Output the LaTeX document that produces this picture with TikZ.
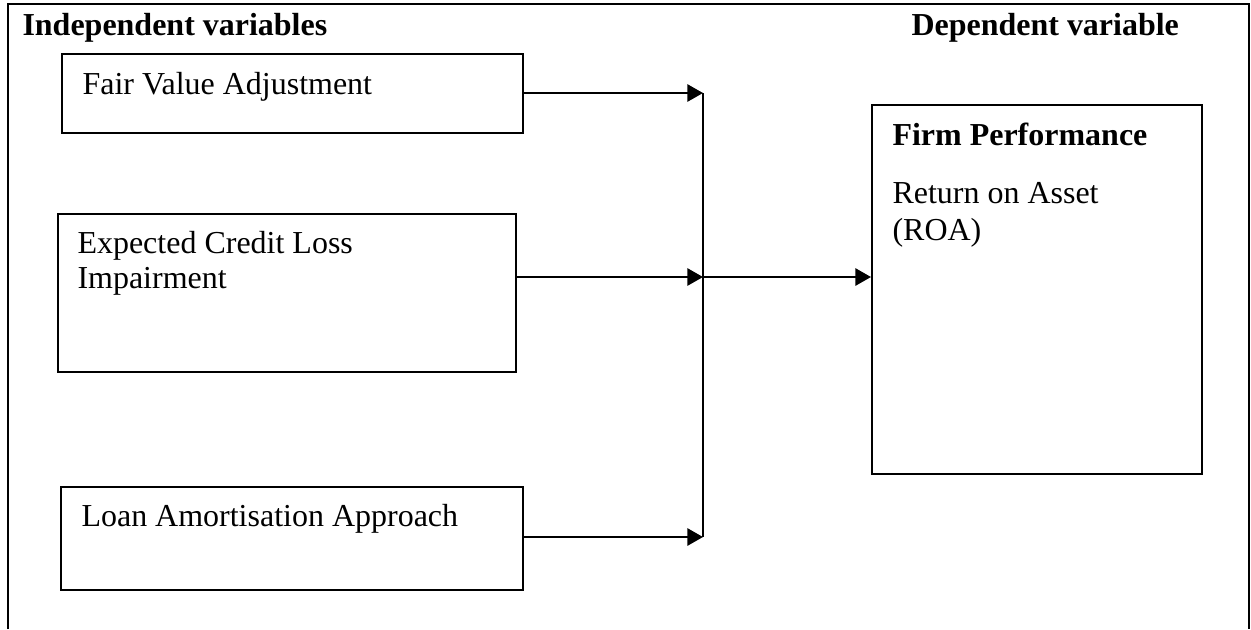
\documentclass[tikz,border=0pt]{standalone}
\usepackage{fontspec}
\setmainfont{Liberation Serif}
\usetikzlibrary{arrows.meta}
\begin{document}
\begin{tikzpicture}[x=0.3846pt,y=-0.3846pt,
  varbox/.style={draw,line width=0.8pt,rectangle,inner sep=0pt,anchor=north west},
  lbl/.style={anchor=base west,inner sep=0pt,font=\fontsize{12.3pt}{14pt}\selectfont},
  hdr/.style={anchor=base west,inner sep=0pt,font=\fontsize{12.3pt}{14pt}\selectfont\bfseries},
  conn/.style={line width=0.8pt},
  arr/.style={line width=0.8pt,-{Triangle[length=6pt,width=6.6pt]}}]
\useasboundingbox (0,0) rectangle (1251,629);
% outer frame (open at the bottom edge of the picture)
\draw[line width=1.1pt] (8,629) -- (8,4) -- (1249,4) -- (1249,629);
% headers
\node[hdr] (indep) at (22,35) {Independent variables};
\node[hdr] (dep) at (911,35) {Dependent variable};
% boxes
\node[varbox,minimum width=177.3pt,minimum height=30.4pt] (fva) at (61,53) {};
\node[varbox,minimum width=176.1pt,minimum height=60.8pt] (ecl) at (57,213) {};
\node[varbox,minimum width=177.7pt,minimum height=39.6pt] (laa) at (60,486) {};
\node[varbox,minimum width=126.9pt,minimum height=141.9pt] (fp) at (871,104) {};
% texts
\node[lbl] (t1) at (82,94) {Fair Value Adjustment};
\node[lbl] (t2a) at (77,253) {Expected Credit Loss};
\node[lbl] (t2b) at (77,288) {Impairment};
\node[lbl] (t3) at (81,526) {Loan Amortisation Approach};
\node[hdr] (t4) at (892,145) {Firm Performance};
\node[lbl] (t5a) at (892,203) {Return on Asset};
\node[lbl] (t5b) at (892,240) {(ROA)};
% junction
\coordinate (j1) at (703,93);
\coordinate (j2) at (703,277);
\coordinate (j3) at (703,537);
\draw[conn] (j1) -- (j3);
\draw[arr] (fva.east |- j1) -- (j1);
\draw[arr] (ecl.east |- j2) -- (j2);
\draw[arr] (laa.east |- j3) -- (j3);
\draw[arr] (j2) -- (fp.west |- j2);
\end{tikzpicture}
\end{document}
